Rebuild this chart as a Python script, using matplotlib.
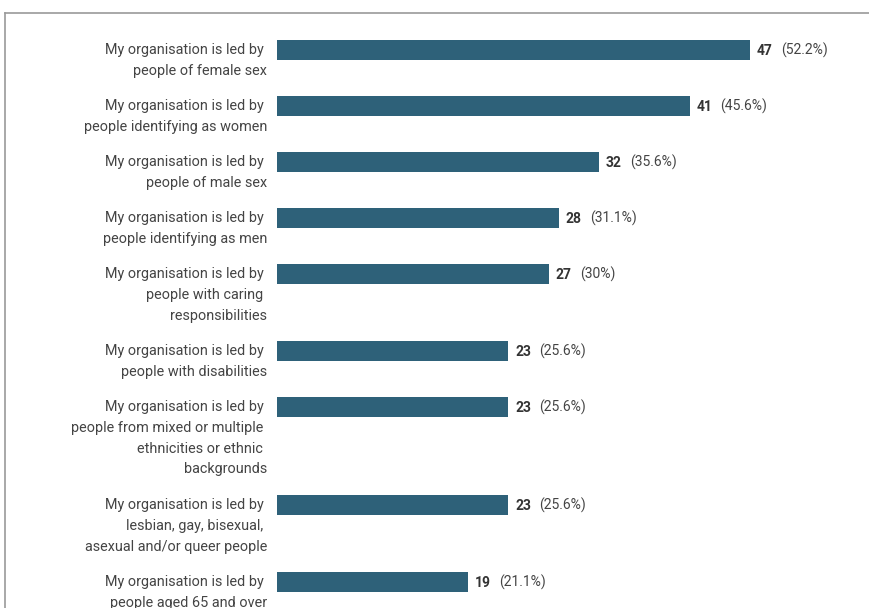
import matplotlib
matplotlib.use("Agg")
import matplotlib.pyplot as plt
from matplotlib.lines import Line2D

plt.rcParams['font.family'] = ['Roboto', 'DejaVu Sans']

# data
labels = [
    "My organisation is led by \npeople of female sex",
    "My organisation is led by \npeople identifying as women",
    "My organisation is led by \npeople of male sex",
    "My organisation is led by \npeople identifying as men",
    "My organisation is led by \npeople with caring \nresponsibilities",
    "My organisation is led by \npeople with disabilities",
    "My organisation is led by \npeople from mixed or multiple \nethnicities or ethnic \nbackgrounds",
    "My organisation is led by \nlesbian, gay, bisexual, \nasexual and/or queer people",
    "My organisation is led by \npeople aged 65 and over",
]
counts = [47, 41, 32, 28, 27, 23, 23, 23, 19]
percents = ["52.2%", "45.6%", "35.6%", "31.1%", "30%", "25.6%", "25.6%", "25.6%", "21.1%"]

W, H = 870, 608
BAR_COLOR = "#2e6179"
TEXT_COLOR = "#444444"

fig = plt.figure(figsize=(W / 100, H / 100), dpi=100)

# axes in px units vertically, value units horizontally
left_px = 277
px_per_unit = 473 / 47
xmax = 60
ax = fig.add_axes([left_px / W, 0, xmax * px_per_unit / W, 1])
ax.set_xlim(0, xmax)
ax.set_ylim(H, 0)
ax.axis('off')

# vertical layout: each item takes 14px + 21px per text line
tops = []
y = 40
for lab in labels:
    tops.append(y)
    y += 14 + 21 * len(lab.split("\n"))

bar_h = 20
centers = [t + bar_h / 2 for t in tops]
ax.barh(centers, counts, height=bar_h, color=BAR_COLOR)

for c, v, p, lab in zip(centers, counts, percents, labels):
    ax.annotate(lab, xy=(0, c), xytext=(-10, 7), textcoords='offset pixels',
                ha='right', va='top', fontsize=10.4, color=TEXT_COLOR,
                linespacing=1.62, annotation_clip=False)
    ax.annotate(str(v), xy=(v, c), xytext=(7, -5), textcoords='offset pixels',
                ha='left', va='baseline', fontsize=10, fontweight='bold',
                color="#333333", annotation_clip=False)
    ax.annotate("(" + p + ")", xy=(v, c), xytext=(31, -5), textcoords='offset pixels',
                ha='left', va='baseline', fontsize=10, color=TEXT_COLOR,
                annotation_clip=False)

# frame lines top and left
fig.add_artist(Line2D([5 / W, 1], [1 - 13 / H, 1 - 13 / H], color="#9a9a9a", lw=1.2,
                      transform=fig.transFigure))
fig.add_artist(Line2D([5 / W, 5 / W], [0, 1 - 13 / H], color="#9a9a9a", lw=1.2,
                      transform=fig.transFigure))

fig.savefig("out.png", dpi=100)
